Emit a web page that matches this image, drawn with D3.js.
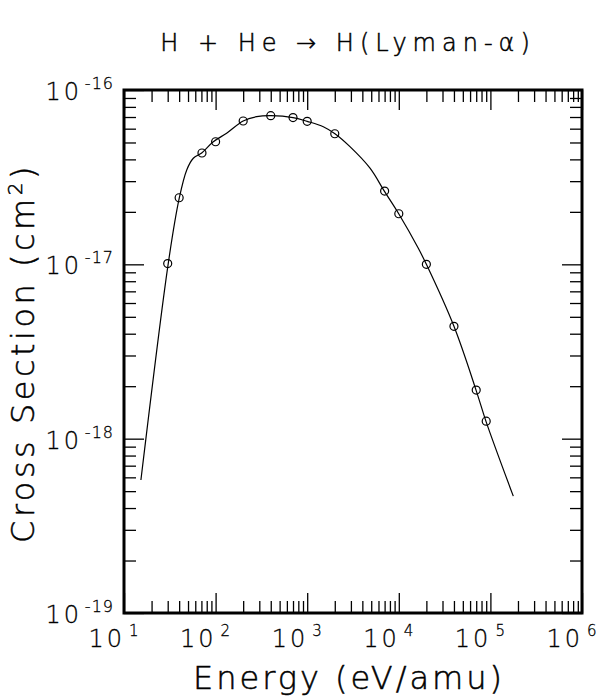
<!DOCTYPE html>
<html>
<head>
<meta charset="utf-8">
<script src="https://cdn.jsdelivr.net/npm/d3@7"></script>
<style>
  body { margin: 0; background: #fff; }
  svg text { font-family: "DejaVu Sans", sans-serif; font-weight: 200; fill: #000; stroke: #000; stroke-width: 0.5px; }
  svg text.tick-label { stroke-width: 0.3px; }
</style>
</head>
<body>
<div id="chart"></div>
<script>
// measured points (eV/amu, cm^2)
const pointEnergy = [30, 40, 71, 100, 200, 400, 700, 1000, 2000, 7000, 10000, 20000, 40000, 70000, 90000];
const pointSigma = [1.01e-17, 2.41e-17, 4.35e-17, 5.05e-17, 6.64e-17, 7.12e-17, 6.95e-17, 6.61e-17, 5.61e-17,
                    2.63e-17, 1.95e-17, 1.0e-17, 4.41e-18, 1.90e-18, 1.26e-18];

// fitted curve
const fitEnergy = [15.3, 30.4, 40.2, 48.4, 57.1, 70.5, 94.4, 132, 200, 281, 402, 700, 1000, 1500, 2010,
                   2930, 4850, 6950, 9980, 16330, 20000, 40000, 69700, 89500, 177800];
const fitSigma = [5.79e-19, 1.01e-17, 2.41e-17, 3.48e-17, 4.06e-17, 4.35e-17, 5.05e-17, 5.65e-17, 6.64e-17,
                  7.03e-17, 7.12e-17, 6.95e-17, 6.61e-17, 6.16e-17, 5.61e-17, 4.73e-17, 3.56e-17, 2.63e-17,
                  1.95e-17, 1.236e-17, 1.0e-17, 4.41e-18, 1.90e-18, 1.257e-18, 4.68e-19];

const xDecades = [1, 2, 3, 4, 5, 6];
const yDecades = [-19, -18, -17, -16];
const title = "H + He \u2192 H(Lyman-\u03b1)";
const xTitle = "Energy (eV/amu)";
const yTitle = ["Cross Section (cm", "2", ")"];

const width = 598, height = 696;
const plotLeft = 124, plotRight = 582, plotTop = 90, plotBottom = 613;

const svg = d3.select("#chart").append("svg")
    .attr("width", width).attr("height", height);

const x = d3.scaleLog().domain([10, 1e6]).range([plotLeft, plotRight]);
const y = d3.scaleLog().domain([1e-19, 1e-16]).range([plotBottom, plotTop]);

// tick values
const xMajor = xDecades.map(d => Math.pow(10, d));
const xMinor = [];
xDecades.slice(0, -1).forEach(d => { for (let k = 2; k <= 9; k++) xMinor.push(k * Math.pow(10, d)); });
const yMajor = yDecades.map(d => Math.pow(10, d));
const yMinor = [];
yDecades.slice(0, -1).forEach(d => { for (let k = 2; k <= 9; k++) yMinor.push(k * Math.pow(10, d)); });

function tickAxis(axis, values, size, transform) {
    const g = svg.append("g").attr("transform", transform)
        .call(axis.tickValues(values).tickSizeInner(-size).tickSizeOuter(0).tickFormat(""));
    g.select(".domain").remove();
    g.selectAll("line").attr("stroke", "#000").attr("stroke-width", 1.3);
}
tickAxis(d3.axisBottom(x), xMinor, 12, `translate(0,${plotBottom})`);
tickAxis(d3.axisBottom(x), xMajor, 20, `translate(0,${plotBottom})`);
tickAxis(d3.axisTop(x), xMinor, 12, `translate(0,${plotTop})`);
tickAxis(d3.axisTop(x), xMajor, 20, `translate(0,${plotTop})`);
tickAxis(d3.axisLeft(y), yMinor, 12, `translate(${plotLeft},0)`);
tickAxis(d3.axisLeft(y), yMajor, 20, `translate(${plotLeft},0)`);
tickAxis(d3.axisRight(y), yMinor, 12, `translate(${plotRight},0)`);
tickAxis(d3.axisRight(y), yMajor, 20, `translate(${plotRight},0)`);

// frame
svg.append("rect")
    .attr("x", plotLeft).attr("y", plotTop)
    .attr("width", plotRight - plotLeft).attr("height", plotBottom - plotTop)
    .attr("fill", "none").attr("stroke", "#000").attr("stroke-width", 3);

// x tick labels
xDecades.forEach(d => {
    const px = x(Math.pow(10, d));
    svg.append("text").attr("class", "tick-label")
        .attr("x", px + 1).attr("y", 647)
        .attr("text-anchor", "end")
        .style("font-size", "24px").style("letter-spacing", "3px")
        .text("10");
    svg.append("text").attr("class", "tick-label")
        .attr("x", px + 5).attr("y", 636)
        .style("font-size", "15px")
        .text(d);
});

// y tick labels
yDecades.forEach(d => {
    const py = y(Math.pow(10, d));
    svg.append("text").attr("class", "tick-label")
        .attr("x", 114).attr("y", py - 1)
        .attr("text-anchor", "end")
        .style("font-size", "16px").style("letter-spacing", "1px")
        .text("-" + Math.abs(d));
    svg.append("text").attr("class", "tick-label")
        .attr("x", 82).attr("y", py + 10)
        .attr("text-anchor", "end")
        .style("font-size", "24px").style("letter-spacing", "3px")
        .text("10");
});

// curve
const line = d3.line()
    .x((d, i) => x(fitEnergy[i]))
    .y((d, i) => y(fitSigma[i]))
    .curve(d3.curveCatmullRom.alpha(0.5));
svg.append("path")
    .attr("d", line(fitEnergy))
    .attr("fill", "none").attr("stroke", "#000").attr("stroke-width", 1.2);

// points
svg.append("g").selectAll("circle")
    .data(pointEnergy)
    .enter().append("circle")
    .attr("cx", (d, i) => x(d))
    .attr("cy", (d, i) => y(pointSigma[i]))
    .attr("r", 4)
    .attr("fill", "none").attr("stroke", "#000").attr("stroke-width", 1.2);

// titles
svg.append("text")
    .attr("x", 348).attr("y", 51)
    .attr("text-anchor", "middle")
    .style("font-size", "24px").style("letter-spacing", "6px")
    .text(title);

svg.append("text")
    .attr("x", 349).attr("y", 689)
    .attr("text-anchor", "middle")
    .style("font-size", "32px").style("letter-spacing", "3px")
    .text(xTitle);

const yt = svg.append("text")
    .attr("transform", "translate(34,353) rotate(-90)")
    .attr("text-anchor", "middle")
    .style("font-size", "32px").style("letter-spacing", "3.5px");
yt.append("tspan").text(yTitle[0]);
yt.append("tspan").attr("dy", -12).style("font-size", "20px").text(yTitle[1]);
yt.append("tspan").attr("dy", 12).text(yTitle[2]);
</script>
</body>
</html>
